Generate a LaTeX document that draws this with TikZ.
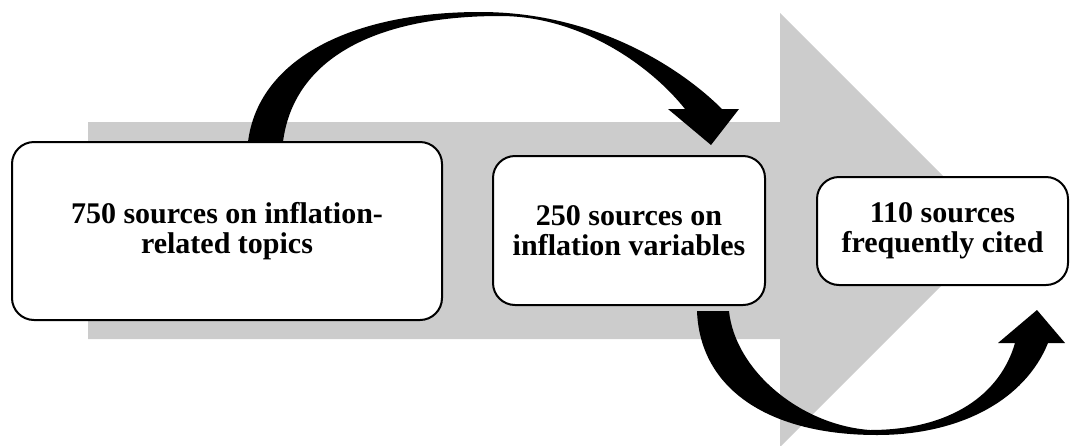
\documentclass[tikz,border=0pt]{standalone}
\usepackage{fontspec}
\setmainfont{Liberation Serif}
\definecolor{arrowgray}{RGB}{204,204,204}
\begin{document}
\begin{tikzpicture}[x=1pt,y=-1pt,
  box/.style={draw=black, line width=2pt, rounded corners=22pt, fill=white,
    inner sep=0pt, align=center, font=\fontsize{30}{30}\selectfont\bfseries},
  bigarrow/.style={fill=arrowgray, draw=none},
  curvearrow/.style={fill=black, draw=none}]
\useasboundingbox (0,0) rectangle (1071,445);
\clip (0,0) rectangle (1071,445);
% large grey process arrow
\path[bigarrow] (88,122) -- (780,122) -- (780,13) -- (997,230) -- (780,447)
  -- (780,339) -- (88,339) -- cycle;
% boxes
\node[box, minimum width=430pt, minimum height=178pt] (b1) at (227,231)
  {750 sources on inflation-\\related topics};
\node[box, minimum width=272pt, minimum height=149pt] (b2) at (629,230.5)
  {250 sources on\\inflation variables};
\node[box, minimum width=251pt, minimum height=108pt] (b3) at (942.5,231)
  {110 sources\\frequently cited};
% curved down arrow (b1 -> b2)
\path[curvearrow] (248,142) .. controls (258,60) and (350,12) .. (480,12)
  .. controls (600,12) and (685,72) .. (722,109)
  -- (739,109) -- (711,145) -- (668,109) -- (685,109)
  .. controls (650,65) and (580,16) .. (500,16)
  .. controls (370,16) and (293,62) .. (283,142) -- cycle;
% curved up arrow (b2 -> b3)
\path[curvearrow] (697,311) .. controls (700,390) and (770,435) .. (877,435)
  .. controls (960,435) and (1025,400) .. (1048,343)
  -- (1065,343) -- (1037,310) -- (998,343) -- (1015,343)
  .. controls (1000,395) and (950,430) .. (870,430)
  .. controls (800,425) and (735,370) .. (729,311) -- cycle;
\end{tikzpicture}
\end{document}
